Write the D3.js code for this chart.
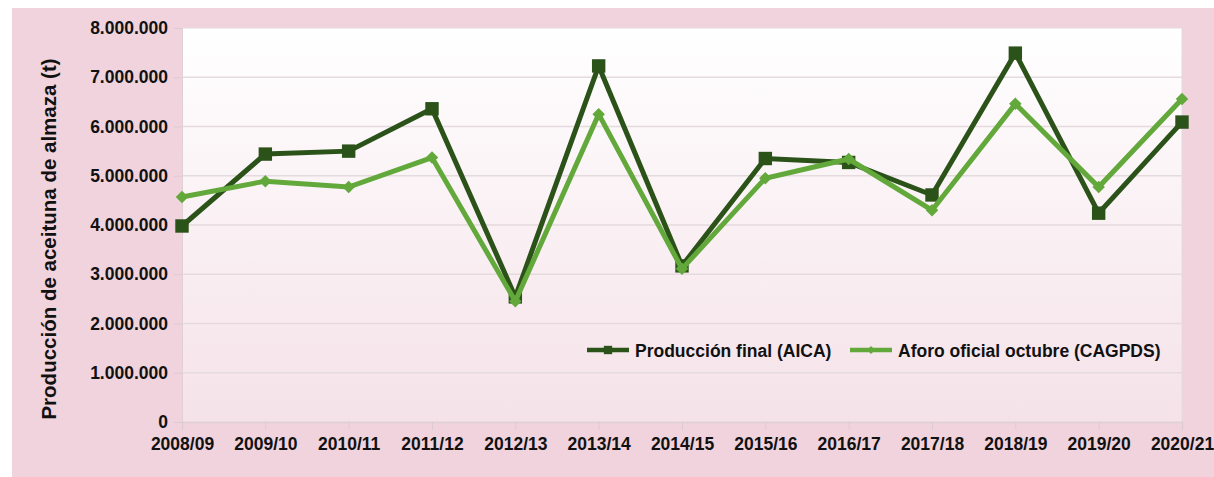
<!DOCTYPE html>
<html>
<head>
<meta charset="utf-8">
<script src="https://cdn.jsdelivr.net/npm/d3@7"></script>
<style>
  body { margin: 0; background: #ffffff; }
  svg { display: block; font-family: "Liberation Sans", Arial, sans-serif; }
  .tick-label { font-size: 17.5px; font-weight: bold; fill: #111; }
</style>
</head>
<body>
<div id="chart"></div>
<script>
// Campaigns (x categories)
const campaigns = ['2008/09', '2009/10', '2010/11', '2011/12', '2012/13', '2013/14', '2014/15',
                   '2015/16', '2016/17', '2017/18', '2018/19', '2019/20', '2020/21'];

// Production (t)
const produccionFinal = [3980000, 5440000, 5500000, 6360000, 2540000, 7230000, 3170000,
                         5350000, 5270000, 4610000, 7490000, 4240000, 6090000];
const aforoOficial = [4570000, 4890000, 4770000, 5370000, 2450000, 6250000, 3110000,
                      4950000, 5340000, 4300000, 6460000, 4770000, 6560000];

const yTicks = [0, 1000000, 2000000, 3000000, 4000000, 5000000, 6000000, 7000000, 8000000];
const seriesNames = ['Producción final (AICA)', 'Aforo oficial octubre (CAGPDS)'];
const yTitle = 'Producción de aceituna de almaza (t)';

class LineChart {
    constructor(_config) {
        this.config = {
            parentElement: _config.parentElement,
            svgWidth: _config.svgWidth || 1214,
            svgHeight: _config.svgHeight || 477
        };
        this.initVis();
    }

    margin = {top: 28, right: 32, bottom: 55, left: 182};

    initVis() {
        const vis = this;

        vis.svg = d3.select(vis.config.parentElement).append('svg')
            .attr('width', vis.config.svgWidth)
            .attr('height', vis.config.svgHeight);

        // Pink frame
        vis.svg.append('rect')
            .attr('x', 12).attr('y', 8)
            .attr('width', vis.config.svgWidth - 12)
            .attr('height', vis.config.svgHeight - 8)
            .attr('fill', '#f0d3dc');

        const grad = vis.svg.append('defs').append('linearGradient')
            .attr('id', 'plot-bg')
            .attr('x1', 0).attr('y1', 0).attr('x2', 0).attr('y2', 1);
        grad.append('stop').attr('offset', '0%').attr('stop-color', '#ffffff');
        grad.append('stop').attr('offset', '100%').attr('stop-color', '#f5e2e9');

        vis.chartWidth = vis.config.svgWidth - vis.margin.left - vis.margin.right;
        vis.chartHeight = vis.config.svgHeight - vis.margin.top - vis.margin.bottom;

        vis.chart = vis.svg.append('g')
            .attr('transform', `translate(${vis.margin.left}, ${vis.margin.top})`);

        vis.xScale = d3.scalePoint()
            .domain(campaigns)
            .range([0, vis.chartWidth]);

        vis.yScale = d3.scaleLinear()
            .domain([0, 8000000])
            .range([vis.chartHeight, 0]);

        vis.renderVis();
    }

    renderVis() {
        const vis = this;
        const fmt = d => d3.format(',')(d).replace(/,/g, '.');

        vis.chart.append('rect')
            .attr('width', vis.chartWidth)
            .attr('height', vis.chartHeight)
            .attr('fill', 'url(#plot-bg)')
            .attr('stroke', '#e6dadf')
            .attr('stroke-width', 1);

        // Gridlines
        vis.chart.append('g')
            .selectAll('line').data(yTicks.slice(1, -1))
            .join('line')
            .attr('x1', 0).attr('x2', vis.chartWidth)
            .attr('y1', d => vis.yScale(d)).attr('y2', d => vis.yScale(d))
            .attr('stroke', '#e5dade').attr('stroke-width', 1.5);

        // Y axis
        const yAxis = d3.axisLeft(vis.yScale)
            .tickValues(yTicks)
            .tickFormat(fmt)
            .tickSize(8)
            .tickPadding(6);
        const yAxisGroup = vis.chart.append('g').call(yAxis);
        yAxisGroup.select('.domain').attr('stroke', '#e0d0d6');
        yAxisGroup.selectAll('.tick line').attr('stroke', '#dccbd2');
        yAxisGroup.selectAll('.tick text').attr('class', 'tick-label');

        // X axis
        const xAxis = d3.axisBottom(vis.xScale)
            .tickSize(8)
            .tickPadding(8);
        const xAxisGroup = vis.chart.append('g')
            .attr('transform', `translate(0, ${vis.chartHeight})`)
            .call(xAxis);
        xAxisGroup.select('.domain').attr('stroke', '#e0cfd6').attr('stroke-width', 1.5);
        xAxisGroup.selectAll('.tick line').attr('stroke', '#dccbd2');
        xAxisGroup.selectAll('.tick text').attr('class', 'tick-label');

        // Axis title
        vis.svg.append('text')
            .attr('transform', `translate(56, ${vis.margin.top + vis.chartHeight / 2 + 14}) rotate(-90)`)
            .attr('text-anchor', 'middle')
            .attr('font-size', '20.5px')
            .attr('font-weight', 'bold')
            .attr('fill', '#111')
            .text(yTitle);

        const series = [
            {name: seriesNames[0], values: produccionFinal, color: '#2b5219', marker: 'square'},
            {name: seriesNames[1], values: aforoOficial, color: '#62a83a', marker: 'diamond'}
        ];

        const line = d3.line()
            .x((d, i) => vis.xScale(campaigns[i]))
            .y(d => vis.yScale(d));

        // Diamond = square turned 45deg
        const markerPath = (kind, size) => d3.symbol(d3.symbolSquare, size)();

        series.forEach(s => {
            vis.chart.append('path')
                .datum(s.values)
                .attr('d', line)
                .attr('fill', 'none')
                .attr('stroke', s.color)
                .attr('stroke-width', 5)
                .attr('stroke-linejoin', 'miter');

            const rot = s.marker === 'square' ? 0 : 45;
            vis.chart.append('g')
                .selectAll('path').data(s.values)
                .join('path')
                .attr('transform', (d, i) => `translate(${vis.xScale(campaigns[i])}, ${vis.yScale(d)}) rotate(${rot})`)
                .attr('d', markerPath(s.marker, s.marker === 'square' ? 180 : 78))
                .attr('fill', s.color);
        });

        // Legend
        const legendY = 350;
        const legendItems = [{x: 587}, {x: 850}];
        series.forEach((s, i) => {
            const g = vis.svg.append('g')
                .attr('transform', `translate(${legendItems[i].x}, ${legendY})`);
            g.append('line')
                .attr('x1', 0).attr('x2', 42)
                .attr('stroke', s.color).attr('stroke-width', 4.5);
            g.append('path')
                .attr('transform', `translate(21, 0) rotate(${s.marker === 'square' ? 0 : 45})`)
                .attr('d', markerPath(s.marker, s.marker === 'square' ? 70 : 32))
                .attr('fill', s.color);
            g.append('text')
                .attr('x', 48)
                .attr('y', 6.5)
                .attr('font-size', '17.5px')
                .attr('font-weight', 'bold')
                .attr('fill', '#111')
                .text(s.name);
        });
    }
}

const chart = new LineChart({parentElement: '#chart'});
</script>
</body>
</html>
